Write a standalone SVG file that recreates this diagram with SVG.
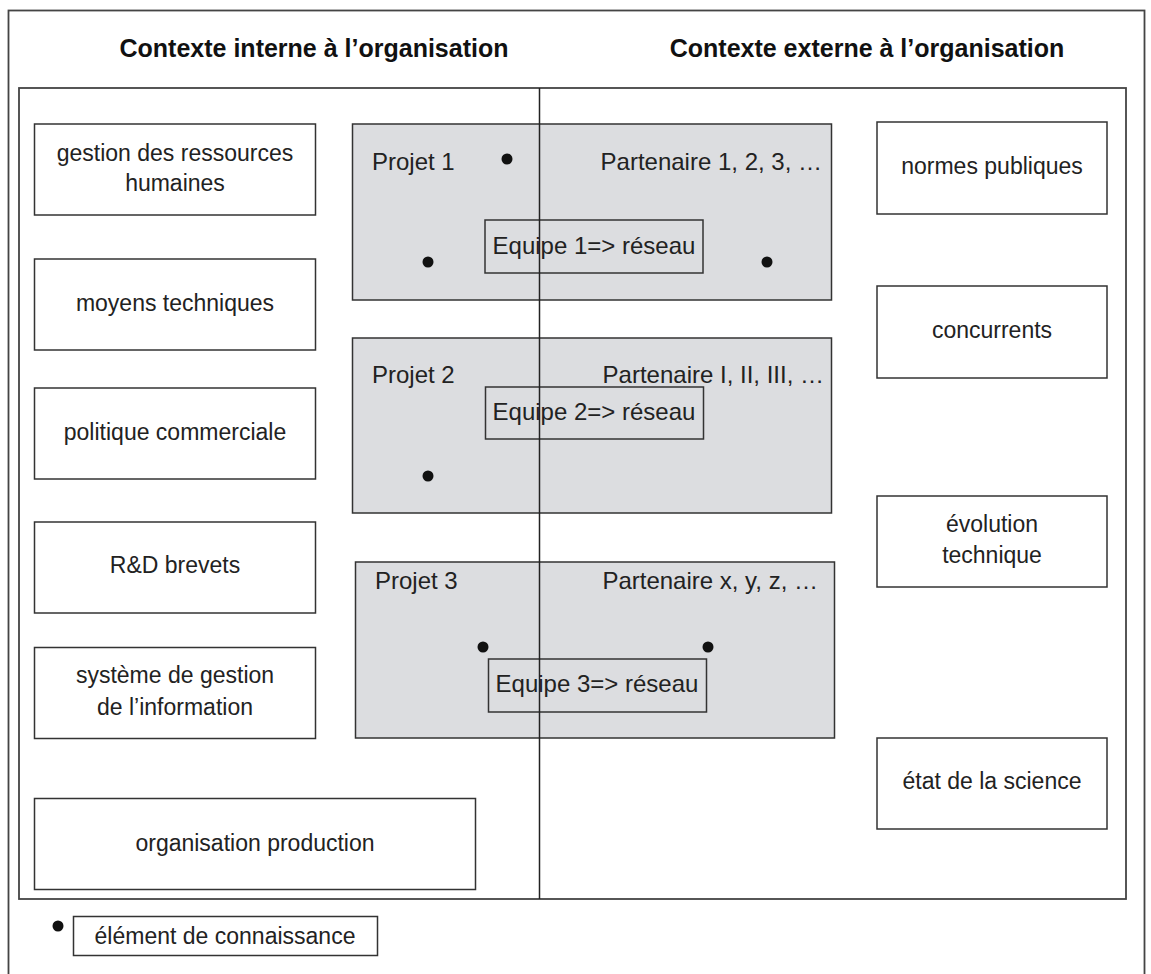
<svg xmlns="http://www.w3.org/2000/svg" width="1151" height="974" viewBox="0 0 1151 974">
<style>
.box{fill:#ffffff;stroke:#333333;stroke-width:1.5}
.proj{fill:#dcdde0;stroke:#333333;stroke-width:1.5}
.eq{fill:none;stroke:#333333;stroke-width:1.5}
.frame{fill:none;stroke:#444444;stroke-width:1.8}
.t{font-family:"Liberation Sans",Arial,sans-serif;font-size:23px;fill:#222222;text-anchor:middle}
.tp{font-family:"Liberation Sans",Arial,sans-serif;font-size:24px;fill:#222222}
.title{font-family:"Liberation Sans",Arial,sans-serif;font-size:25px;font-weight:bold;fill:#111111;text-anchor:middle}
.dot{fill:#111111}
</style>
<rect width="1151" height="974" fill="#ffffff"/>
<rect id="outer" class="frame" x="8.5" y="10.5" width="1136" height="990"/>
<text id="title-int" class="title" x="314" y="57">Contexte interne à l’organisation</text>
<text id="title-ext" class="title" x="867" y="57">Contexte externe à l’organisation</text>
<rect id="inner" class="frame" x="19" y="88" width="1107" height="811"/>

<g id="n-grh"><rect class="box" x="34.5" y="124" width="281" height="91"/><text class="t" x="175" y="161">gestion des ressources</text><text class="t" x="175" y="191">humaines</text></g>
<g id="n-moyens"><rect class="box" x="34.5" y="259" width="281" height="91"/><text class="t" x="175" y="311">moyens techniques</text></g>
<g id="n-politique"><rect class="box" x="34.5" y="388" width="281" height="91"/><text class="t" x="175" y="440">politique commerciale</text></g>
<g id="n-rd"><rect class="box" x="34.5" y="522" width="281" height="91"/><text class="t" x="175" y="573">R&amp;D brevets</text></g>
<g id="n-sgi"><rect class="box" x="34.5" y="647.5" width="281" height="91"/><text class="t" x="175" y="683">système de gestion</text><text class="t" x="175" y="715">de l’information</text></g>
<g id="n-prod"><rect class="box" x="34.5" y="798.5" width="441" height="91"/><text class="t" x="255" y="851">organisation production</text></g>

<g id="n-normes"><rect class="box" x="877" y="122" width="230" height="92"/><text class="t" x="992" y="174">normes publiques</text></g>
<g id="n-concurrents"><rect class="box" x="877" y="286" width="230" height="92"/><text class="t" x="992" y="338">concurrents</text></g>
<g id="n-evolution"><rect class="box" x="877" y="496" width="230" height="91"/><text class="t" x="992" y="532">évolution</text><text class="t" x="992" y="563">technique</text></g>
<g id="n-etat"><rect class="box" x="877" y="738" width="230" height="91"/><text class="t" x="992" y="789">état de la science</text></g>

<g id="n-projet1">
<rect class="proj" x="352.5" y="124" width="479" height="176"/>
<text class="tp" x="372" y="170">Projet 1</text>
<text class="tp" x="822" y="170" text-anchor="end">Partenaire 1, 2, 3, …</text>
<rect class="eq" x="485" y="220" width="218" height="53"/>
<text class="tp" x="594" y="254" text-anchor="middle">Equipe 1=&gt; réseau</text>
<circle class="dot" cx="507" cy="159" r="5.5"/>
<circle class="dot" cx="428" cy="262" r="5.5"/>
<circle class="dot" cx="767" cy="262" r="5.5"/>
</g>
<g id="n-projet2">
<rect class="proj" x="352.5" y="338" width="479" height="175"/>
<text class="tp" x="372" y="383">Projet 2</text>
<text class="tp" x="824" y="383" text-anchor="end">Partenaire I, II, III, …</text>
<rect class="eq" x="485.5" y="387" width="218" height="52"/>
<text class="tp" x="594" y="420" text-anchor="middle">Equipe 2=&gt; réseau</text>
<circle class="dot" cx="428" cy="476" r="5.5"/>
</g>
<g id="n-projet3">
<rect class="proj" x="355.5" y="562" width="479" height="176"/>
<text class="tp" x="375" y="589">Projet 3</text>
<text class="tp" x="818" y="589" text-anchor="end">Partenaire x, y, z, …</text>
<rect class="eq" x="488.5" y="659" width="218" height="53"/>
<text class="tp" x="597" y="692" text-anchor="middle">Equipe 3=&gt; réseau</text>
<circle class="dot" cx="483" cy="647" r="5.5"/>
<circle class="dot" cx="708" cy="647" r="5.5"/>
</g>

<g id="connectors">
<line x1="539.5" y1="88" x2="539.5" y2="899" stroke="#222222" stroke-width="1.5"/>
</g>

<g id="legend">
<circle class="dot" cx="58" cy="926" r="5.5"/>
<rect class="box" x="73.5" y="916.5" width="304" height="39"/>
<text class="t" x="225" y="944">élément de connaissance</text>
</g>
</svg>
